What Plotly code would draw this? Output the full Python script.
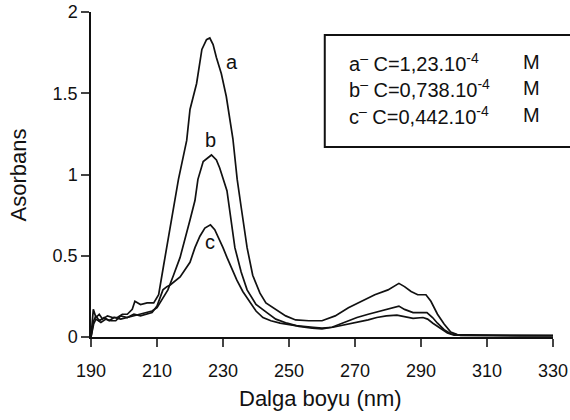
import plotly.graph_objects as go

# ---- data ----
wl_a = [190, 190.7, 191.5, 192.5, 193.5, 195, 196.5, 198, 199.5, 201, 202.5, 203.3, 205, 207, 209,
        210.5, 212, 213.5, 215, 216.5, 219, 220, 222, 223.6, 225, 226, 227, 228, 229.5, 231, 233,
        234.3, 235.5, 237.3, 239, 241.2, 243, 246, 249, 252, 256, 260, 264, 268, 272, 276, 280,
        283.3, 285, 287, 289, 291.5, 293, 295, 297, 299, 301, 310, 320, 330]
abs_a = [0.0, 0.17, 0.12, 0.14, 0.11, 0.13, 0.12, 0.12, 0.14, 0.14, 0.17, 0.22, 0.2, 0.21, 0.21,
         0.26, 0.44, 0.62, 0.8, 0.97, 1.21, 1.4, 1.56, 1.77, 1.83, 1.84, 1.8, 1.72, 1.62, 1.48, 1.22,
         0.97, 0.8, 0.55, 0.38, 0.27, 0.21, 0.17, 0.13, 0.105, 0.1, 0.1, 0.13, 0.18, 0.22, 0.26, 0.29,
         0.33, 0.31, 0.28, 0.26, 0.26, 0.22, 0.14, 0.08, 0.03, 0.015, 0.01, 0.008, 0.008]

wl_b = [190, 190.8, 191.5, 192.5, 194, 195.5, 197, 199, 201, 203, 205, 207, 208.5, 210, 211.5,
        213.3, 215, 217, 220, 221.5, 222.4, 224, 226.5, 228, 229, 230, 231.2, 233.6, 235.5, 237.3,
        240, 243.3, 246, 249.4, 253, 257, 260, 263, 267, 270.6, 274, 277, 280, 283.3, 285, 287.6,
        291.8, 293.5, 295, 297, 299, 302, 330]
abs_b = [0.0, 0.1, 0.13, 0.1, 0.12, 0.1, 0.12, 0.11, 0.12, 0.13, 0.14, 0.15, 0.16, 0.18, 0.23,
         0.29, 0.38, 0.49, 0.72, 0.84, 0.97, 1.08, 1.12, 1.09, 1.04, 0.97, 0.9, 0.55, 0.4, 0.29,
         0.2, 0.15, 0.11, 0.085, 0.065, 0.055, 0.05, 0.06, 0.09, 0.12, 0.14, 0.155, 0.17, 0.19, 0.17,
         0.15, 0.15, 0.12, 0.085, 0.045, 0.02, 0.01, 0.008]

wl_c = [190, 190.8, 191.5, 193, 194.5, 196, 197.5, 199, 201, 203, 205, 207, 208.5, 210, 211.8,
        213, 214, 217, 220, 221.5, 223, 224.5, 226.2, 227.5, 228.5, 230, 231.2, 232.7, 234.2, 236,
        238.2, 240, 242.1, 244.5, 247.3, 252, 257.3, 260, 263.3, 267, 270.6, 274, 276.6, 279.5,
        282.7, 285, 287.6, 290.6, 292, 293.6, 296, 298, 300, 330]
abs_c = [0.0, 0.08, 0.11, 0.09, 0.11, 0.1, 0.1, 0.13, 0.12, 0.14, 0.13, 0.14, 0.15, 0.19, 0.29,
         0.31, 0.32, 0.37, 0.46, 0.55, 0.62, 0.67, 0.69, 0.66, 0.62, 0.55, 0.49, 0.42, 0.35, 0.28,
         0.21, 0.16, 0.12, 0.1, 0.085, 0.07, 0.06, 0.055, 0.06, 0.075, 0.09, 0.105, 0.12, 0.13,
         0.135, 0.125, 0.115, 0.12, 0.11, 0.085, 0.05, 0.025, 0.012, 0.008]

curve_labels = ["a", "b", "c"]
label_x = [232.7, 226.1, 226.1]
label_y = [1.69, 1.21, 0.585]

legend_lines = ["a<sup>\u2013</sup> C=1,23.10<sup>-4</sup>",
                "b<sup>\u2013</sup> C=0,738.10<sup>-4</sup>",
                "c<sup>\u2013</sup> C=0,442.10<sup>-4</sup>"]
legend_unit = "M"

x_ticks = [190, 210, 230, 250, 270, 290, 310, 330]
y_ticks = [0, 0.5, 1, 1.5, 2]
x_title = "Dalga boyu (nm)"
y_title = "Asorbans"

FONT = "Liberation Sans, Arial, sans-serif"
INK = "#111111"

fig = go.Figure()
for wl, ab in [(wl_a, abs_a), (wl_b, abs_b), (wl_c, abs_c)]:
    fig.add_trace(go.Scatter(x=wl, y=ab, mode="lines",
                             line=dict(color=INK, width=1.7),
                             showlegend=False, hoverinfo="skip"))

annotations = []
for t, x, y in zip(curve_labels, label_x, label_y):
    annotations.append(dict(x=x, y=y, xref="x", yref="y", text=t, showarrow=False,
                            font=dict(size=20, color=INK), xanchor="center", yanchor="middle"))

line_y = [0.846, 0.766, 0.683]
for t, yy in zip(legend_lines, line_y):
    annotations.append(dict(x=0.554, y=yy, xref="paper", yref="paper", text=t, showarrow=False,
                            font=dict(size=20, color=INK), xanchor="left", yanchor="middle"))
    annotations.append(dict(x=0.977, y=yy, xref="paper", yref="paper", text=legend_unit,
                            showarrow=False, font=dict(size=20, color=INK),
                            xanchor="right", yanchor="middle"))

# axis titles
annotations.append(dict(x=0.496, y=-0.19, xref="paper", yref="paper", text=x_title, showarrow=False,
                        font=dict(size=22, color=INK), xanchor="center", yanchor="middle"))
annotations.append(dict(x=-0.156, y=0.5, xref="paper", yref="paper", text=y_title, showarrow=False,
                        textangle=-90, font=dict(size=22, color=INK), xanchor="center", yanchor="middle"))

fig.update_layout(
    width=570, height=420,
    margin=dict(l=91, r=17, t=12, b=83),
    paper_bgcolor="white", plot_bgcolor="white",
    font=dict(family=FONT, size=18, color=INK),
    annotations=annotations,
    shapes=[dict(type="rect", xref="paper", yref="paper", x0=0.506, x1=1.05, y0=0.585, y1=0.929,
                 line=dict(color=INK, width=2), fillcolor="rgba(0,0,0,0)")],
    xaxis=dict(range=[190, 330], tickvals=x_ticks, ticks="outside", ticklen=8, tickwidth=1.5,
               showline=True, linecolor=INK, linewidth=1.5, showgrid=False, zeroline=False,
               tickfont=dict(size=18), automargin=False, ticklabelstandoff=9),
    yaxis=dict(range=[0, 2], tickvals=y_ticks, ticks="outside", ticklen=8, tickwidth=1.5,
               showline=True, linecolor=INK, linewidth=1.5, showgrid=False, zeroline=False,
               tickfont=dict(size=18), automargin=False),
)

fig.write_html("out.html")
